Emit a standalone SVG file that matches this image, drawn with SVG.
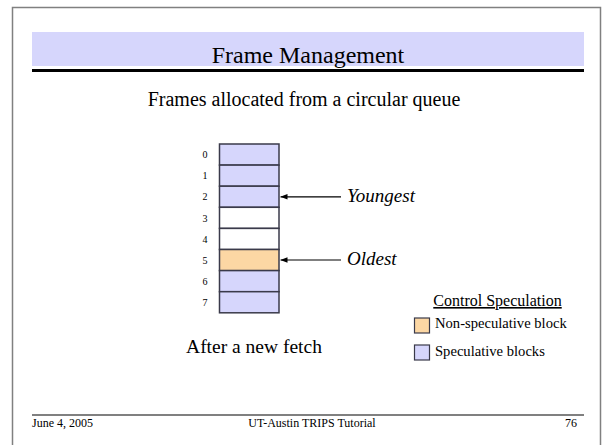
<svg xmlns="http://www.w3.org/2000/svg" width="602" height="445" viewBox="0 0 602 445">
<style>
  .serif { font-family: "Liberation Serif", "Times New Roman", serif; fill: #000; }
  .cell { stroke: #3a3a4a; stroke-width: 1.5; }
  .spec { fill: #d6d6fc; }
  .nonspec { fill: #fcd7a4; }
  .empty { fill: #ffffff; }
  .idx { font-size: 10px; text-anchor: middle; }
  .conn { stroke: #000; stroke-width: 1.2; fill: none; }
</style>
<defs>
  <marker id="arr" viewBox="0 0 10 10" refX="10" refY="5" markerWidth="7" markerHeight="7" orient="auto" markerUnits="userSpaceOnUse">
    <path d="M0,1 L10,5 L0,9 z" fill="#000"/>
  </marker>
</defs>
<rect width="602" height="445" fill="#ffffff"/>
<!-- slide frame -->
<path d="M12.5,445 L12.5,7.5 L600.5,7.5 L600.5,445" fill="none" stroke="#808080" stroke-width="1.5"/>
<!-- title -->
<g id="title">
  <rect x="32" y="32" width="552" height="34" fill="#d6d6fc"/>
  <rect x="32" y="69" width="552" height="3" fill="#000"/>
  <text class="serif" x="308" y="63" font-size="24" text-anchor="middle">Frame Management</text>
</g>
<text class="serif" x="304" y="106" font-size="20" text-anchor="middle">Frames allocated from a circular queue</text>
<!-- queue -->
<g id="queue">
  <rect class="cell spec" x="219.5" y="144" width="59.5" height="21.1"/>
  <rect class="cell spec" x="219.5" y="165.1" width="59.5" height="21.1"/>
  <rect class="cell spec" x="219.5" y="186.2" width="59.5" height="21.1"/>
  <rect class="cell empty" x="219.5" y="207.3" width="59.5" height="21.1"/>
  <rect class="cell empty" x="219.5" y="228.4" width="59.5" height="21.1"/>
  <rect class="cell nonspec" x="219.5" y="249.5" width="59.5" height="21.1"/>
  <rect class="cell spec" x="219.5" y="270.6" width="59.5" height="21.1"/>
  <rect class="cell spec" x="219.5" y="291.7" width="59.5" height="21.1"/>
  <text class="serif idx" x="205" y="158">0</text>
  <text class="serif idx" x="205" y="179">1</text>
  <text class="serif idx" x="205" y="200">2</text>
  <text class="serif idx" x="205" y="221.5">3</text>
  <text class="serif idx" x="205" y="242.5">4</text>
  <text class="serif idx" x="205" y="263.5">5</text>
  <text class="serif idx" x="205" y="284.5">6</text>
  <text class="serif idx" x="205" y="305.5">7</text>
</g>
<g id="connectors">
  <line class="conn" x1="341" y1="196.8" x2="280.5" y2="196.8" marker-end="url(#arr)"/>
  <line class="conn" x1="341" y1="260" x2="280.5" y2="260" marker-end="url(#arr)"/>
</g>
<g id="youngest">
  <text class="serif" x="347" y="202" font-size="19" font-style="italic">Youngest</text>
</g>
<g id="oldest">
  <text class="serif" x="347" y="265" font-size="19" font-style="italic">Oldest</text>
</g>
<text class="serif" x="254" y="353" font-size="19.5" text-anchor="middle">After a new fetch</text>
<!-- legend -->
<g id="legend">
  <text class="serif" x="497.5" y="306" font-size="16" text-anchor="middle" text-decoration="underline">Control Speculation</text>
  <rect x="414.5" y="318" width="15" height="15" fill="#fcd7a4" stroke="#3a3a4a" stroke-width="1.2"/>
  <text class="serif" x="435" y="328" font-size="14.6">Non-speculative block</text>
  <rect x="414.5" y="345" width="15" height="15" fill="#d6d6fc" stroke="#3a3a4a" stroke-width="1.2"/>
  <text class="serif" x="435" y="355.5" font-size="14.6">Speculative blocks</text>
</g>
<!-- footer -->
<rect x="32" y="414" width="552" height="2" fill="#808080"/>
<text class="serif" x="32" y="427" font-size="12">June 4, 2005</text>
<text class="serif" x="312" y="427" font-size="12" text-anchor="middle">UT-Austin TRIPS Tutorial</text>
<text class="serif" x="577" y="427" font-size="12" text-anchor="end">76</text>
</svg>
